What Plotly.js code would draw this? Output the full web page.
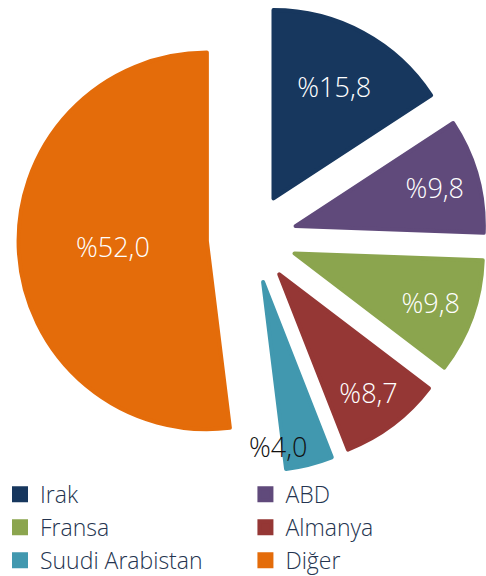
<!DOCTYPE html>
<html>
<head>
<meta charset="utf-8">
<script src="https://cdn.plot.ly/plotly-3.0.1.min.js"></script>
<style>html,body{margin:0;padding:0;background:#fff;}#chart{width:486px;height:576px;}</style>
</head>
<body>
<div id="chart"></div>
<script>
var labels = ["Irak", "ABD", "Fransa", "Almanya", "Suudi Arabistan", "Diğer"];
var values = [15.8, 9.8, 9.8, 8.7, 4.0, 52.0];
var colors = ["#17375E", "#604A7B", "#8BA54E", "#953735", "#4198AF", "#E46C0A"];
// the thin Suudi Arabistan slice carries its label outside, beside the slice
var textPositions = ["inside", "inside", "inside", "inside", "none", "inside"];
var outsideLabelIndex = 4;

var FONT = "'Open Sans', Lato, sans-serif";

function fmt(v) { return "%" + v.toFixed(1).replace(".", ","); }

var trace = {
  type: "pie",
  labels: labels,
  values: values,
  sort: false,
  direction: "clockwise",
  rotation: 0,
  pull: 0.24,
  marker: {colors: colors, line: {color: colors, width: 4}},
  texttemplate: "%%{value:.1f}",
  textposition: textPositions,
  insidetextorientation: "horizontal",
  insidetextfont: {family: FONT, size: 27, color: "#ffffff", weight: 300},
  hoverinfo: "none",
  domain: {x: [0.038, 0.999], y: [0.181, 0.992]}
};

var layout = {
  width: 486,
  height: 576,
  margin: {l: 0, r: 0, t: 0, b: 0, autoexpand: false},
  paper_bgcolor: "#ffffff",
  separators: ", ",
  showlegend: true,
  legend: {
    orientation: "h",
    x: 0,
    xanchor: "left",
    y: 0.179,
    yanchor: "top",
    entrywidthmode: "fraction",
    entrywidth: 0.505,
    traceorder: "normal",
    font: {family: FONT, size: 23, color: "#243450", weight: 300},
    bgcolor: "rgba(0,0,0,0)"
  },
  annotations: [{
    text: fmt(values[outsideLabelIndex]),
    xref: "paper", yref: "paper",
    x: 0.572, y: 0.224,
    xanchor: "center", yanchor: "middle",
    showarrow: false,
    font: {family: FONT, size: 27, color: "#111111", weight: 300}
  }],
  font: {family: FONT}
};

Plotly.newPlot("chart", [trace], layout, {displayModeBar: false, staticPlot: true});
</script>
</body>
</html>
